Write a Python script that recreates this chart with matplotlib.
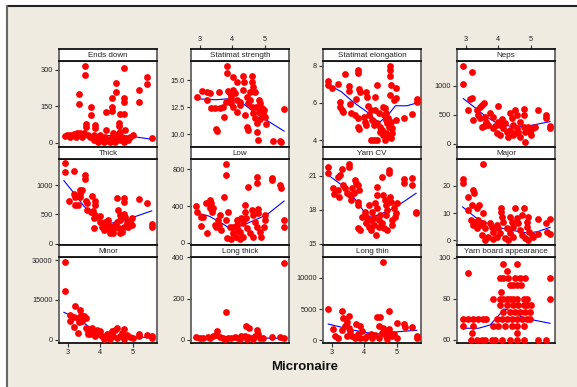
import matplotlib
matplotlib.use("Agg")
import matplotlib.pyplot as plt
from matplotlib.patches import Rectangle
from matplotlib.lines import Line2D

plt.rcParams['font.family'] = ['Liberation Sans', 'DejaVu Sans']

# ---------------- data (Micronaire, value) ----------------
ends_down = [
(3.52,317),(3.52,280),(3.34,201),(3.34,160),(3.55,77),(3.55,66),(3.72,147),(3.72,114),(3.85,73),(3.85,59),
(4.18,127),(4.18,52),(4.36,184),(4.36,149),(4.36,132),(4.48,248),(4.48,210),(4.59,118),(4.58,80),(4.58,69),
(4.73,310),(4.73,183),(4.73,169),(4.73,118),(5.19,217),(5.19,169),(5.42,272),(5.42,242),(5.57,18),
(2.92,28),(2.99,32),(3.09,32),(3.19,34),(3.29,39),(3.39,41),(3.49,39),(3.62,33),(3.70,25),(3.82,32),(3.90,25),
(3.98,32),(4.03,11),(4.10,4),(4.15,22),(4.25,11),(4.30,4),(4.35,25),(4.40,11),(4.45,4),(4.51,18),(4.56,39),
(4.61,11),(4.66,25),(4.71,4),(4.76,52),(4.79,18),(4.86,11),(4.91,25),(4.99,32),(3.80,11),(3.92,4),(4.40,39),
(4.61,45),(3.27,25),(3.44,25),(3.07,22)]
statimat_strength = [
(2.92,13.43),(3.07,14.01),(3.23,13.89),(3.31,13.86),(3.23,13.18),(3.51,10.46),(3.53,10.34),(3.36,12.41),(3.46,12.41),
(3.62,12.41),(3.59,13.95),(3.72,12.56),(3.74,11.64),(3.84,16.33),(3.84,15.71),(3.87,14.04),(4.03,15.34),(4.13,14.88),
(4.03,14.10),(4.08,13.80),(3.92,13.18),(3.97,12.87),(4.15,13.18),(4.23,13.02),(4.33,15.40),(4.35,14.88),(4.33,14.10),
(4.44,13.49),(4.44,10.71),(4.49,10.40),(4.59,15.40),(4.59,14.88),(4.64,14.41),(4.69,13.95),(4.54,13.18),(4.59,12.56),
(4.38,11.79),(4.64,11.94),(4.69,11.48),(4.74,11.02),(4.74,10.25),(4.77,9.48),(4.80,13.18),(4.85,12.87),(4.90,12.41),
(4.95,11.94),(5.00,11.64),(4.97,12.25),(5.03,10.96),(5.23,9.41),(5.46,9.41),(5.48,9.32),(5.58,12.35),(4.15,12.10),
(4.25,12.72),(4.03,12.56),(4.49,12.87),(4.54,13.95),(3.82,13.02),(4.72,12.50),(4.80,12.10),(4.85,11.39),(3.92,13.8),(3.97,13.5)]
statimat_elongation = [
(2.90,7.18),(2.90,6.96),(3.00,6.79),(3.19,7.00),(3.26,6.07),(3.26,5.80),(3.31,5.63),(3.36,5.54),(3.41,7.55),
(3.52,6.91),(3.54,6.66),(3.57,5.95),(3.60,5.48),(3.80,7.77),(3.80,7.59),(3.74,6.20),(3.72,5.36),(3.82,5.18),
(3.85,6.73),(3.88,6.61),(3.82,4.73),(3.84,4.59),(4.05,6.61),(4.08,6.34),(4.05,4.82),(4.11,5.84),(4.19,5.63),
(4.13,5.36),(4.20,4.02),(4.29,4.02),(4.39,4.02),(4.32,6.34),(4.39,6.96),(4.34,5.63),(4.44,5.45),(4.39,4.91),
(4.49,4.73),(4.57,5.80),(4.63,5.71),(4.78,8.00),(4.78,7.77),(4.78,7.45),(4.80,6.96),(4.78,6.43),(4.98,6.79),
(4.96,6.25),(4.91,6.16),(4.60,5.36),(4.65,5.09),(4.70,4.91),(4.75,4.73),(4.55,4.55),(4.65,4.38),(4.75,4.20),
(4.63,4.02),(4.80,4.11),(4.67,5.45),(4.73,5.18),(4.80,5.00),(4.96,5.09),(5.22,5.18),(5.47,5.39),(5.60,6.20),
(5.60,6.07),(3.98,5.23),(4.01,5.00),(4.24,5.09),(4.29,4.82),(4.49,4.46),(4.57,4.29),(4.86,4.38),(4.86,4.65)]
neps = [
(2.93,1343),(2.93,1029),(3.21,1240),(3.08,583),(3.13,766),(3.21,789),(3.23,411),(3.34,583),(3.44,640),(3.49,669),
(3.56,697),(3.39,497),(3.44,440),(3.59,469),(3.64,383),(3.49,297),(3.56,309),(3.74,526),(3.69,326),(3.85,269),
(3.90,309),(4.00,651),(4.00,383),(4.05,326),(4.10,423),(3.95,194),(4.05,154),(4.15,269),(4.26,211),(4.31,126),
(4.36,526),(4.41,440),(4.46,326),(4.56,269),(4.61,211),(4.51,183),(4.66,383),(4.77,297),(4.82,211),(4.51,583),
(4.58,497),(4.77,594),(4.77,497),(4.66,126),(4.82,40),(4.92,297),(4.97,211),(4.99,154),(4.20,354),(4.36,240),
(4.46,154),(5.22,583),(5.46,497),(5.46,440),(5.58,309),(5.58,269),(5.07,269),(5.12,297),(3.85,469)]
thick = [
(2.91,1380),(2.91,1227),(3.19,1238),(3.52,1176),(3.52,1096),(3.06,733),(3.19,846),(3.24,790),(3.24,659),(3.31,659),
(3.37,914),(3.44,914),(3.39,846),(3.37,790),(3.55,733),(3.60,699),(3.58,574),(3.75,812),(3.85,733),(3.85,659),
(3.78,562),(3.72,545),(3.80,432),(3.85,488),(3.98,471),(3.82,261),(4.00,375),(4.05,290),(4.15,375),(4.25,403),
(4.10,233),(4.20,261),(4.30,301),(4.40,233),(4.50,772),(4.54,574),(4.59,488),(4.61,403),(4.50,375),(4.45,318),
(4.56,261),(4.66,204),(4.73,772),(4.73,716),(4.71,506),(4.76,460),(4.81,346),(4.86,290),(4.73,290),(4.91,375),
(4.96,432),(4.40,176),(4.30,187),(4.61,187),(5.19,755),(5.43,699),(5.57,335),(5.57,278),(4.96,318),(4.20,346)]
low = [
(3.82,858),(3.82,738),(2.90,402),(2.92,340),(3.05,286),(3.12,286),(3.05,185),(3.21,431),(3.33,467),(3.36,431),
(3.31,376),(3.23,105),(3.41,376),(3.39,340),(3.46,195),(3.51,177),(3.59,195),(3.56,250),(3.62,304),(3.74,503),
(3.67,141),(3.80,250),(3.87,340),(3.92,177),(3.84,51),(4.03,105),(4.11,69),(4.18,141),(4.23,123),(4.03,177),
(4.13,195),(3.97,40),(4.23,40),(4.33,62),(4.38,413),(4.38,340),(4.42,268),(4.33,214),(4.46,159),(4.49,612),
(4.59,358),(4.64,304),(4.54,105),(4.64,69),(4.74,720),(4.74,648),(4.69,232),(4.76,177),(4.79,366),(4.79,322),
(4.83,123),(4.87,69),(5.00,304),(5.00,250),(4.97,170),(5.21,702),(5.21,684),(5.46,630),(5.48,594),(5.58,250),
(5.58,170),(4.13,250),(4.28,268)]
yarn_cv = [
(2.90,21.74),(2.90,21.21),(3.05,19.88),(3.08,19.38),(3.19,20.91),(3.26,21.06),(3.21,19.74),(3.23,19.09),(3.33,21.56),
(3.52,22.03),(3.52,21.79),(3.36,20.18),(3.41,19.88),(3.46,19.44),(3.57,19.29),(3.62,19.88),(3.60,18.85),(3.72,20.62),
(3.74,20.38),(3.70,19.44),(3.82,20.18),(3.85,19.74),(3.80,18.71),(3.82,18.41),(3.82,16.35),(3.88,16.21),(4.01,17.82),
(4.03,17.53),(4.08,17.24),(4.05,16.79),(4.13,16.50),(4.19,16.21),(4.24,17.82),(4.29,17.24),(4.34,18.56),(4.39,18.12),
(4.39,20.03),(4.39,19.29),(4.36,15.76),(4.44,17.09),(4.44,16.50),(4.49,17.53),(4.55,16.79),(4.57,19.29),(4.63,18.85),
(4.53,20.85),(4.65,18.41),(4.70,17.97),(4.65,17.53),(4.60,16.35),(4.70,16.21),(4.75,21.50),(4.75,21.21),(4.77,19.15),
(4.80,18.71),(4.84,17.09),(4.86,16.65),(4.91,18.12),(4.96,17.68),(5.01,18.56),(4.94,17.32),(5.22,20.68),(5.22,20.32),
(5.47,20.76),(5.47,20.18),(5.58,17.82),(5.58,17.68),(4.13,18.41),(4.19,17.09),(3.93,17.38),(4.29,16.65)]
major = [
(2.91,22.45),(2.91,21.22),(3.52,28.1),(3.08,16.07),(3.23,18.53),(3.26,17.3),(3.21,13.0),(3.08,11.17),(3.42,13.0),
(3.34,11.78),(3.54,10.18),(3.18,7.48),(3.29,6.87),(3.23,5.64),(3.39,7.48),(3.44,5.64),(3.34,4.42),(3.54,6.26),
(3.59,4.42),(3.49,1.96),(3.59,0.12),(3.69,1.35),(3.74,6.26),(3.80,5.03),(3.85,3.19),(3.95,5.64),(4.00,4.42),
(4.05,2.58),(4.07,11.78),(4.07,10.55),(4.10,8.71),(4.15,6.87),(4.26,4.42),(4.36,2.58),(4.46,1.35),(4.36,8.71),
(4.41,6.87),(4.46,5.03),(4.51,11.78),(4.56,8.10),(4.61,6.26),(4.66,3.80),(4.71,9.33),(4.77,11.78),(4.71,1.96),
(4.82,0.74),(4.92,0.12),(4.87,5.03),(4.95,3.19),(5.02,1.96),(4.87,6.87),(4.92,8.71),(4.20,0.74),(4.31,0.12),
(3.95,1.35),(3.85,0.37),(5.22,7.85),(5.22,2.21),(5.46,6.26),(5.58,7.85),(5.58,2.21),(5.48,3.19),(5.07,1.35)]
minor = [
(2.92,29360),(2.92,18300),(3.09,9405),(3.07,6864),(3.24,12837),(3.21,8643),(3.19,4830),(3.31,8134),(3.34,6482),
(3.39,11185),(3.41,9405),(3.49,9024),(3.55,8134),(3.44,7118),(3.31,2669),(3.55,4321),(3.62,3305),(3.62,2288),
(3.70,2034),(3.75,4321),(3.80,3050),(3.90,3559),(3.85,1398),(3.95,2288),(4.00,3305),(4.05,1398),(4.15,763),
(4.25,1017),(4.35,3305),(4.45,3559),(4.51,4321),(4.40,1398),(4.51,763),(4.61,1398),(4.73,3940),(4.66,2669),
(4.81,1779),(4.91,1017),(4.99,763),(4.10,127),(4.30,127),(4.71,381),(5.19,2288),(5.19,1398),(5.43,1779),
(5.57,1398),(5.57,508),(4.20,2034)]
long_thick = [
(5.58,374),(3.80,134),(4.42,69),(4.52,57),(4.76,47),(4.79,31),(3.53,41),(2.90,15),(3.00,8),(3.12,11),(3.26,15),
(3.41,20),(3.51,24),(3.62,15),(3.72,11),(3.87,11),(3.97,8),(4.08,15),(4.18,11),(4.28,18),(4.38,21),(4.49,15),
(4.59,11),(4.69,18),(4.85,11),(4.95,8),(5.21,15),(5.46,15),(5.58,11),(3.31,8),(3.77,5),(4.23,5),(4.64,5),(4.44,5)]
long_thin = [
(4.58,12594),(2.90,5027),(3.05,1784),(3.10,703),(3.21,432),(3.31,1622),(3.33,4756),(3.36,3567),(3.46,2865),
(3.52,3946),(3.41,2324),(3.52,1946),(3.57,1513),(3.46,703),(3.64,703),(3.74,2594),(3.82,973),(3.88,324),(3.93,1513),
(3.88,2324),(4.08,703),(4.19,1081),(4.24,432),(4.34,865),(4.39,3675),(4.49,3675),(4.44,2324),(4.57,1946),(4.55,1243),
(4.65,703),(4.70,162),(4.75,1784),(4.77,1243),(4.75,4756),(4.86,703),(4.91,1081),(5.01,2703),(4.99,432),(5.22,2594),
(5.25,2162),(5.47,2162),(5.60,703),(5.60,324),(4.03,432),(4.44,432),(4.65,1622),(3.72,324)]
yarn_board = [
(3.08,92.5),(2.91,70),(2.91,66.7),(3.08,70),(3.23,70),(3.39,70),(3.54,70),(3.62,70),(3.23,66.7),(3.21,63.3),
(3.18,60),(3.34,60),(3.49,60),(3.59,60),(3.85,80),(3.85,66.7),(3.80,60),(3.90,60),(4.07,83.3),(4.05,90),(4.15,90),
(4.15,96.7),(4.26,93.3),(4.31,90),
(4.05,80),(4.15,80),(4.26,80),(4.36,80),(4.46,80),(4.56,80),
(4.05,76.7),(4.26,76.7),(4.46,76.7),(4.61,76.7),
(4.15,73.3),(4.36,73.3),(4.51,73.3),(4.66,73.3),
(3.95,70),(4.10,70),(4.26,70),(4.41,70),(4.56,70),(4.71,70),(4.87,70),(4.97,70),
(4.00,66.7),(4.20,66.7),(4.41,66.7),(4.56,66.7),(4.77,66.7),
(4.10,60),(4.36,86.7),(4.46,86.7),(4.58,96.7),(4.51,90),(4.66,90),(4.58,86.7),(4.68,86.7),
(4.36,60),(4.56,60),(4.77,60),(4.56,63.3),
(4.77,80),(4.87,80),(4.77,76.7),(4.87,76.7),(4.99,76.7),(4.82,73.3),(4.97,73.3),(4.82,90),
(5.22,60),(5.46,60),(5.58,90),(5.58,80)]

# smoother (lowess) curves
ends_down_fit = ([2.9, 3.5, 4.0, 4.5, 5.0, 5.57], [30, 32, 30, 28, 25, 14])
strength_fit = ([2.9, 3.5, 3.9, 4.3, 4.7, 5.0, 5.58], [13.3, 13.2, 13.3, 12.9, 12.0, 11.4, 10.3])
elong_fit = ([2.9, 3.3, 3.7, 4.1, 4.45, 4.7, 4.95, 5.3, 5.6], [7.0, 6.6, 6.0, 5.5, 4.95, 5.3, 5.85, 5.85, 6.0])
neps_fit = ([2.93, 3.3, 3.6, 3.95, 4.4, 4.8, 5.1, 5.58], [780, 620, 480, 360, 300, 300, 330, 385])
thick_fit = ([2.89, 3.2, 3.5, 3.9, 4.3, 4.7, 5.0, 5.57], [1075, 860, 640, 410, 350, 380, 450, 560])
low_fit = ([2.9, 3.3, 3.7, 3.95, 4.3, 4.7, 5.05, 5.58], [330, 290, 210, 150, 190, 250, 305, 455])
cv_fit = ([2.9, 3.3, 3.7, 4.1, 4.4, 4.8, 5.2, 5.58], [21.05, 20.2, 19.0, 17.4, 17.5, 18.0, 18.7, 19.45])
major_fit = ([2.91, 3.3, 3.7, 4.1, 4.5, 4.9, 5.2, 5.58], [12.3, 8.5, 6.0, 4.5, 3.5, 2.7, 3.2, 4.8])
minor_fit = ([2.89, 3.2, 3.5, 3.8, 4.1, 4.5, 5.0, 5.57], [10300, 8500, 6300, 3500, 1700, 1200, 1000, 800])
long_thick_fit = ([2.9, 3.5, 4.0, 4.5, 5.0, 5.58], [8, 10, 9, 10, 9, 8])
long_thin_fit = ([2.9, 3.3, 3.7, 4.1, 4.5, 4.9, 5.2, 5.6], [2600, 2100, 1600, 1200, 1000, 1300, 1450, 1600])
board_fit = ([2.91, 3.4, 3.75, 4.05, 4.17, 4.4, 4.7, 5.1, 5.58], [65.6, 65.6, 67.2, 72.5, 75, 74, 71.2, 69.5, 68])

titles = ["Ends down", "Statimat strength", "Statimat elongation", "Neps",
          "Thick", "Low", "Yarn CV", "Major",
          "Minor", "Long thick", "Long thin", "Yarn board appearance"]
series = [ends_down, statimat_strength, statimat_elongation, neps,
          thick, low, yarn_cv, major,
          minor, long_thick, long_thin, yarn_board]
fits = [ends_down_fit, strength_fit, elong_fit, neps_fit,
        thick_fit, low_fit, cv_fit, major_fit,
        minor_fit, long_thick_fit, long_thin_fit, board_fit]
yticks = [[0, 150, 300], [10.0, 12.5, 15.0], [4, 6, 8], [0, 500, 1000],
          [0, 500, 1000], [0, 400, 800], [15, 18, 21], [0, 10, 20],
          [0, 15000, 30000], [0, 200, 400], [0, 5000, 10000], [60, 80, 100]]
ytick_labels = [["0", "150", "300"], ["10.0", "12.5", "15.0"], ["4", "6", "8"], ["0", "500", "1000"],
                ["0", "500", "1000"], ["0", "400", "800"], ["15", "18", "21"], ["0", "10", "20"],
                ["0", "15000", "30000"], ["0", "200", "400"], ["0", "5000", "10000"], ["60", "80", "100"]]
ylims = [(-18, 337), (8.83, 16.79), (3.64, 8.25), (-52, 1426),
         (-22, 1444), (-22, 911), (14.89, 22.47), (-1.7, 29.9),
         (-1260, 31145), (-14.7, 401.5), (-438, 13360), (58.4, 100.3)]
xticks = [3, 4, 5]
xlim = (2.74, 5.73)
x_label = "Micronaire"

# ---------------- layout ----------------
W, H = 577, 387
fig = plt.figure(figsize=(W / 100, H / 100), dpi=100)
fig.patch.set_facecolor("white")
beige = "#efebe1"
fig.add_artist(Rectangle((7 / W, 0), 1 - 7 / W, 1 - 6 / H, transform=fig.transFigure,
                         facecolor=beige, edgecolor="none", zorder=0))
fig.add_artist(Line2D([7 / W, 1], [1 - 6 / H, 1 - 6 / H], transform=fig.transFigure,
                      color="#222222", lw=1.5, zorder=1))
fig.add_artist(Line2D([7 / W, 7 / W], [0, 1 - 6 / H], transform=fig.transFigure,
                      color="#666666", lw=1.5, zorder=1))

col_left = [59, 191, 323, 457]
strip_top = [49, 147, 245]
pw, ph, sh = 98, 86, 12
tick_kw = dict(length=3, width=0.8, color="#333333", labelsize=5.3, pad=1.5, labelcolor="#222222")

for i in range(12):
    r, c = divmod(i, 4)
    lx = col_left[c]
    st = strip_top[r]
    pt = st + sh
    ax = fig.add_axes([lx / W, 1 - (pt + ph) / H, pw / W, ph / H])
    sx = fig.add_axes([lx / W, 1 - (st + sh) / H, pw / W, sh / H])
    for a in (ax, sx):
        a.set_facecolor("white")
        a.set_xlim(*xlim)
        for side in ("top", "bottom"):
            a.spines[side].set_color("#111111")
            a.spines[side].set_linewidth(1.3)
        for side in ("left", "right"):
            a.spines[side].set_color("#555555")
            a.spines[side].set_linewidth(1.2)
    # strip
    sx.set_yticks([])
    sx.text(0.5, 0.45, titles[i], transform=sx.transAxes, ha="center", va="center",
            fontsize=5.8, color="#222222")
    if r == 0 and c in (1, 3):
        sx.set_xticks(xticks)
        sx.set_xticklabels([str(t) for t in xticks])
        sx.tick_params(axis="x", top=True, labeltop=True, bottom=False, labelbottom=False, **tick_kw)
    else:
        sx.set_xticks([])
    # panel
    xs = [p[0] for p in series[i]]
    ys = [p[1] for p in series[i]]
    ax.plot(fits[i][0], fits[i][1], color="#0000ff", lw=0.8, zorder=2)
    ax.scatter(xs, ys, s=24, c="#ff0000", linewidths=0, zorder=3)
    ax.set_ylim(*ylims[i])
    ax.set_yticks(yticks[i])
    ax.set_yticklabels(ytick_labels[i])
    ax.tick_params(axis="y", left=True, **tick_kw)
    if r == 2 and c in (0, 2):
        ax.set_xticks(xticks)
        ax.set_xticklabels([str(t) for t in xticks])
        ax.tick_params(axis="x", bottom=True, **tick_kw)
    else:
        ax.set_xticks([])

fig.text(305 / W, 1 - 367 / H, x_label, ha="center", va="center", fontsize=9.5,
         fontweight="bold", color="#111111")

fig.savefig("out.png", dpi=100)
